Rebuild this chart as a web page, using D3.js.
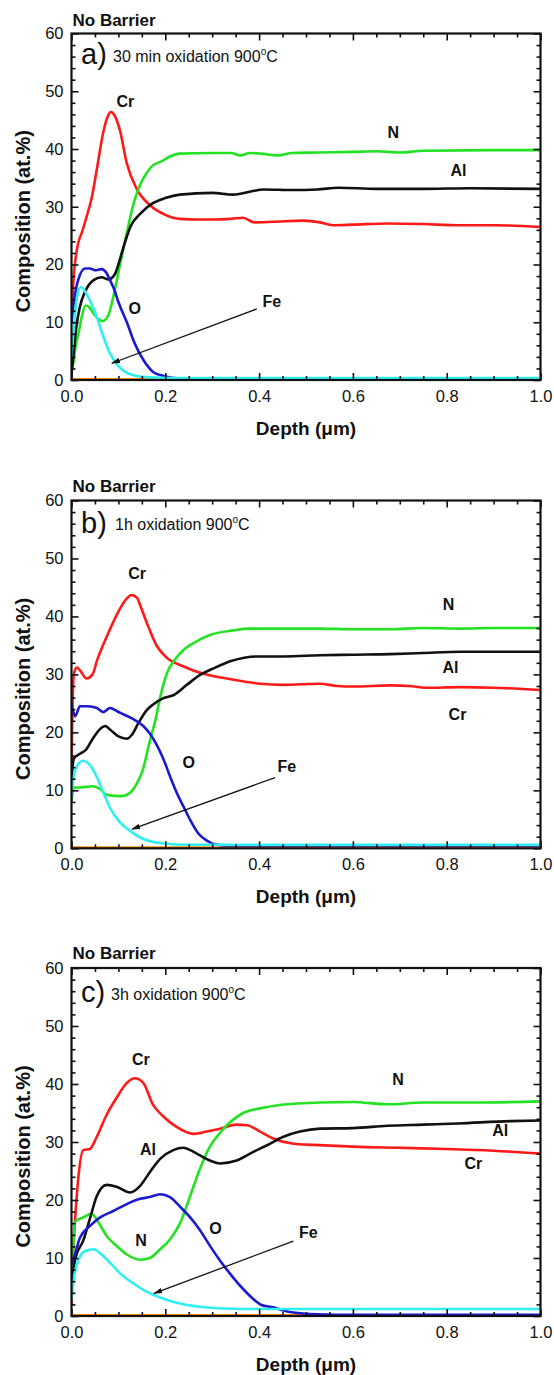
<!DOCTYPE html>
<html><head><meta charset="utf-8">
<script src="https://cdn.jsdelivr.net/npm/d3@7"></script>
<style>body{margin:0;background:#fff}</style>
</head><body><svg id="chart" width="554" height="1375"></svg>
<script>
// ---------- DATA ----------
const depthTicks = [0, 0.2, 0.4, 0.6, 0.8, 1.0];
const depthMinorTicks = [0.05,0.1,0.15,0.25,0.3,0.35,0.45,0.5,0.55,0.65,0.7,0.75,0.85,0.9,0.95];
const compTicks = [0, 10, 20, 30, 40, 50, 60];
const compMinorTicks = [2,4,6,8,12,14,16,18,22,24,26,28,32,34,36,38,42,44,46,48,52,54,56,58];

const panelTitles = ["No Barrier", "No Barrier", "No Barrier"];
const panelLetters = ["a)", "b)", "c)"];
const panelConditions = ["30 min oxidation 900", "1h oxidation 900", "3h oxidation 900"];
const xTitle = "Depth (\u03bcm)";
const yTitle = "Composition (at.%)";

// Panel a) 30 min
const aCr = [[0,10],[0.004,17],[0.011,22.3],[0.024,26],[0.032,28.2],[0.043,31.5],[0.054,36.5],[0.068,43],[0.077,45.6],[0.084,46.4],[0.092,45.8],[0.103,43.3],[0.118,37.5],[0.139,33.1],[0.167,30.3],[0.2,28.6],[0.231,27.9],[0.27,27.8],[0.3,27.8],[0.34,27.9],[0.366,28.1],[0.39,27.3],[0.43,27.4],[0.494,27.6],[0.53,27.3],[0.56,26.8],[0.6,26.9],[0.675,27.1],[0.75,27.0],[0.825,26.8],[0.9,26.8],[1.0,26.5]];
const aN = [[0,1.5],[0.004,3],[0.009,6],[0.015,8.1],[0.022,11],[0.03,12.9],[0.038,12.6],[0.047,11.5],[0.058,10.5],[0.066,10.2],[0.079,11.3],[0.088,14],[0.096,17],[0.103,19.8],[0.118,25.5],[0.133,30.7],[0.148,34.1],[0.16,35.8],[0.171,37],[0.193,37.9],[0.21,38.7],[0.231,39.2],[0.3,39.3],[0.34,39.3],[0.36,38.9],[0.38,39.3],[0.404,39.2],[0.44,38.9],[0.47,39.3],[0.524,39.4],[0.6,39.5],[0.65,39.6],[0.7,39.4],[0.75,39.7],[0.9,39.8],[1.0,39.8]];
const aAl = [[0,1],[0.005,5],[0.01,9],[0.018,12.7],[0.029,15.3],[0.047,17.3],[0.064,17.8],[0.079,17.4],[0.093,18.4],[0.1,20],[0.11,22.8],[0.126,26.6],[0.148,28.9],[0.171,30.5],[0.2,31.5],[0.231,32.1],[0.3,32.4],[0.344,32.1],[0.38,32.6],[0.41,33],[0.47,32.9],[0.524,33],[0.57,33.3],[0.65,33.1],[0.75,33.1],[0.85,33.2],[1.0,33.1]];
const aO = [[0,10],[0.006,14],[0.015,17.5],[0.029,19.3],[0.04,19.3],[0.05,19],[0.064,19.2],[0.074,18.6],[0.082,17.3],[0.091,15.7],[0.1,13.5],[0.118,10],[0.135,6.3],[0.153,3.5],[0.174,1.4],[0.196,0.7],[0.224,0.3],[0.3,0.2],[1.0,0.2]];
const aFe = [[0,4],[0.006,10],[0.012,14.5],[0.02,16.1],[0.03,15.2],[0.039,13.8],[0.054,10.9],[0.068,7.5],[0.082,4.6],[0.1,2.4],[0.125,1.0],[0.16,0.5],[0.22,0.35],[1.0,0.35]];
const aBase = [[0,0.15],[1.0,0.15]];
const aDark = [[0,0],[0.12,0]];

// Panel b) 1 h
const bCr = [[0,14],[0.002,24],[0.005,30],[0.011,31.2],[0.02,30.5],[0.032,29.3],[0.045,30],[0.054,32.3],[0.075,36.5],[0.096,40.2],[0.118,43.1],[0.128,43.7],[0.14,43.2],[0.146,42],[0.164,38.2],[0.182,34.9],[0.203,32.9],[0.238,31.4],[0.281,30.1],[0.331,29.3],[0.402,28.4],[0.45,28.2],[0.491,28.3],[0.53,28.4],[0.566,28.0],[0.6,27.9],[0.68,28.1],[0.72,28],[0.755,27.7],[0.83,27.8],[0.9,27.7],[1.0,27.3]];
const bN = [[0,8],[0.005,10.5],[0.016,10.5],[0.046,10.7],[0.061,10.2],[0.076,9.2],[0.106,9.0],[0.125,9.6],[0.14,11.3],[0.152,13.5],[0.167,18.5],[0.18,22.5],[0.189,26],[0.204,30.3],[0.22,32.5],[0.24,34.3],[0.26,35.4],[0.295,36.8],[0.345,37.6],[0.38,37.9],[0.45,37.9],[0.529,37.9],[0.6,37.8],[0.68,37.8],[0.75,38],[0.83,37.9],[0.9,38],[1.0,38]];
const bAl = [[0,12],[0.005,15.5],[0.018,16.3],[0.031,17],[0.046,19],[0.064,20.8],[0.072,21.1],[0.082,20.5],[0.1,19.3],[0.118,18.9],[0.128,19.5],[0.144,21.8],[0.16,23.8],[0.174,24.8],[0.196,25.9],[0.217,26.4],[0.246,28.2],[0.274,29.9],[0.302,31],[0.34,32.3],[0.393,33.1],[0.453,33.1],[0.529,33.3],[0.6,33.4],[0.68,33.5],[0.75,33.7],[0.83,33.9],[0.9,33.9],[1.0,33.9]];
const bO = [[0,25],[0.004,23.5],[0.008,22.8],[0.018,24.5],[0.035,24.5],[0.054,24.2],[0.068,23.5],[0.082,24.2],[0.103,23.4],[0.129,22.4],[0.153,21.1],[0.167,19.8],[0.182,17.8],[0.197,15.2],[0.212,12],[0.226,9.3],[0.24,7],[0.255,4.6],[0.27,2.6],[0.287,1.4],[0.305,0.7],[0.33,0.5],[1.0,0.5]];
const bFe = [[0,9],[0.004,12],[0.011,14.1],[0.025,15.1],[0.039,14.4],[0.054,12.3],[0.068,9.6],[0.082,7.0],[0.103,4.5],[0.125,3.0],[0.153,1.6],[0.189,0.9],[0.24,0.6],[1.0,0.6]];
const bBase = [[0,0.15],[1.0,0.15]];
const bDark = [[0,0],[0.1,0]];

// Panel c) 3 h
const cCr = [[0,2],[0.004,12],[0.0075,16.5],[0.015,24.2],[0.025,28.6],[0.039,28.8],[0.054,30.9],[0.075,34.7],[0.096,37.6],[0.118,40.2],[0.135,41],[0.153,40.2],[0.174,36.4],[0.196,34.4],[0.224,32.6],[0.26,31.4],[0.288,31.8],[0.317,32.3],[0.352,33],[0.374,32.9],[0.402,31.8],[0.43,30.6],[0.473,29.7],[0.516,29.5],[0.6,29.2],[0.7,29],[0.8,28.8],[0.9,28.5],[1.0,28]];
const cN = [[0,3],[0.004,12],[0.0085,16.3],[0.025,17],[0.043,17.6],[0.057,16.2],[0.075,13.8],[0.096,12.1],[0.118,10.6],[0.146,9.7],[0.167,10],[0.189,11.5],[0.21,13.2],[0.232,16.1],[0.253,20.7],[0.274,25.4],[0.295,29.2],[0.317,31.6],[0.338,33.4],[0.366,35],[0.402,35.8],[0.437,36.3],[0.473,36.6],[0.53,36.8],[0.6,36.9],[0.673,36.5],[0.75,36.8],[0.86,36.8],[1.0,37]];
const cAl = [[0,6],[0.0085,10],[0.025,13],[0.039,16.7],[0.054,20.7],[0.075,22.6],[0.096,22.3],[0.125,21.3],[0.146,22.4],[0.167,24.8],[0.189,27.1],[0.217,28.6],[0.238,29],[0.267,28],[0.295,26.8],[0.317,26.3],[0.352,26.8],[0.388,28.3],[0.416,29.4],[0.452,30.9],[0.487,31.8],[0.53,32.3],[0.6,32.4],[0.673,32.8],[0.75,33],[0.824,33.2],[0.936,33.6],[1.0,33.7]];
const cO = [[0,9],[0.005,10],[0.018,13.5],[0.039,15.5],[0.061,17],[0.089,18.1],[0.118,19.3],[0.146,20.2],[0.167,20.5],[0.189,21],[0.21,20.5],[0.232,18.8],[0.253,17],[0.274,14.8],[0.296,12],[0.318,9.4],[0.34,7.1],[0.362,5],[0.384,3.2],[0.405,1.9],[0.43,1.5],[0.45,1.0],[0.473,0.6],[0.523,0.3],[0.6,0.2],[1.0,0.2]];
const cFe = [[0,3],[0.006,7],[0.015,9.7],[0.029,11.2],[0.047,11.5],[0.064,10.6],[0.082,9.2],[0.103,7.4],[0.132,5.6],[0.16,4.2],[0.189,3.2],[0.224,2.3],[0.274,1.6],[0.33,1.3],[0.4,1.2],[1.0,1.2]];
const cBase = [[0,0.15],[1.0,0.15]];
const cDark = [[0,0],[0.28,0]];

// Curve labels [text, depth, composition]
const aLabels = [["Cr",0.115,48.3],["N",0.686,42.9],["Al",0.825,36.3],["O",0.135,12.5],["Fe",0.427,13.7]];
const bLabels = [["Cr",0.14,47.5],["N",0.804,42.1],["Al",0.808,31.2],["Cr",0.823,23.1],["O",0.25,14.8],["Fe",0.459,14.1]];
const cLabels = [["Cr",0.148,44.3],["N",0.696,40.8],["Al",0.914,32.1],["Cr",0.857,26.4],["Al",0.163,28.8],["N",0.148,13.1],["O",0.307,15.1],["Fe",0.505,14.4]];

// Fe arrows [tailDepth, tailComp, headDepth, headComp]
const aArrow = [0.395, 12.3, 0.086, 2.9];
const bArrow = [0.434, 12.2, 0.129, 3.3];
const cArrow = [0.473, 12.9, 0.176, 3.9];

// ---------- STYLE / LAYOUT ----------
const colors = {Cr:"#ff1a1a", N:"#22e222", Al:"#111111", O:"#1a1ad0", Fe:"#2ff0f0", base:"#ff8a00", dark:"#6b3a1a"};
const font = "'Liberation Sans', Arial, Helvetica, sans-serif";

const panels = [
  {series:{dark:aDark, base:aBase, Cr:aCr, N:aN, Al:aAl, O:aO, Fe:aFe}, labels:aLabels, arrow:aArrow,
   L:{left:71.5,right:540.5,top:33.5,bottom:380, titleOff:7.5, letterX:81, letterOff:30, subX:113, subOff:28.4}},
  {series:{dark:bDark, base:bBase, Cr:bCr, N:bN, Al:bAl, O:bO, Fe:bFe}, labels:bLabels, arrow:bArrow,
   L:{left:71.5,right:540.5,top:500.5,bottom:848.3, titleOff:8.5, letterX:81, letterOff:32, subX:115, subOff:29}},
  {series:{dark:cDark, base:cBase, Cr:cCr, N:cN, Al:cAl, O:cO, Fe:cFe}, labels:cLabels, arrow:cArrow,
   L:{left:71.5,right:540.5,top:968,bottom:1316, titleOff:9, letterX:81, letterOff:33.5, subX:111, subOff:32}}
];
const drawOrder = ["dark","base","Cr","N","Al","O","Fe"];

const svg = d3.select("#chart");
const defs = svg.append("defs");
defs.append("marker").attr("id","arrowhead")
  .attr("viewBox","0 0 10 6").attr("refX",9).attr("refY",3)
  .attr("markerWidth",9).attr("markerHeight",6).attr("markerUnits","userSpaceOnUse")
  .attr("orient","auto")
  .append("path").attr("d","M0,0 L10,3 L0,6 Z").attr("fill","#111");

panels.forEach((p, i) => {
  const L = p.L;
  const x = d3.scaleLinear().domain([0, 1]).range([L.left, L.right]);
  const y = d3.scaleLinear().domain([0, 60]).range([L.bottom, L.top]);
  const g = svg.append("g");

  defs.append("clipPath").attr("id", "clip" + i)
    .append("rect").attr("x", L.left).attr("y", L.top)
    .attr("width", L.right - L.left).attr("height", L.bottom - L.top);

  // curves
  const line = d3.line().x(d => x(d[0])).y(d => y(d[1])).curve(d3.curveMonotoneX);
  const cg = g.append("g").attr("clip-path", `url(#clip${i})`);
  drawOrder.forEach(k => {
    cg.append("path").datum(p.series[k]).attr("d", line)
      .attr("fill", "none").attr("stroke", colors[k])
      .attr("stroke-width", k === "dark" || k === "base" ? 2.2 : 2.6)
      .attr("stroke-linejoin", "round").attr("stroke-linecap", "round");
  });

  // axes
  const styleAxis = sel => {
    sel.select(".domain").remove();
    sel.selectAll("line").attr("stroke", "#111").attr("stroke-width", 1.6);
    sel.selectAll("text").attr("font-family", font).attr("font-size", 16.5).attr("fill", "#111");
  };
  g.append("g").attr("transform", `translate(0,${L.bottom})`)
    .call(d3.axisBottom(x).tickValues(depthTicks).tickFormat(d3.format(".1f")).tickSize(-7).tickPadding(10)).call(styleAxis);
  g.append("g").attr("transform", `translate(0,${L.bottom})`)
    .call(d3.axisBottom(x).tickValues(depthMinorTicks).tickFormat("").tickSize(-4)).call(styleAxis);
  g.append("g").attr("transform", `translate(0,${L.top})`)
    .call(d3.axisTop(x).tickValues(depthTicks).tickFormat("").tickSize(-7)).call(styleAxis);
  g.append("g").attr("transform", `translate(0,${L.top})`)
    .call(d3.axisTop(x).tickValues(depthMinorTicks).tickFormat("").tickSize(-4)).call(styleAxis);
  g.append("g").attr("transform", `translate(${L.left},0)`)
    .call(d3.axisLeft(y).tickValues(compTicks).tickFormat(d3.format("d")).tickSize(-7).tickPadding(8)).call(styleAxis);
  g.append("g").attr("transform", `translate(${L.left},0)`)
    .call(d3.axisLeft(y).tickValues(compMinorTicks).tickFormat("").tickSize(-4)).call(styleAxis);
  g.append("g").attr("transform", `translate(${L.right},0)`)
    .call(d3.axisRight(y).tickValues(compTicks).tickFormat("").tickSize(-7)).call(styleAxis);
  g.append("g").attr("transform", `translate(${L.right},0)`)
    .call(d3.axisRight(y).tickValues(compMinorTicks).tickFormat("").tickSize(-4)).call(styleAxis);

  // frame
  g.append("rect").attr("x", L.left).attr("y", L.top)
    .attr("width", L.right - L.left).attr("height", L.bottom - L.top)
    .attr("fill", "none").attr("stroke", "#111").attr("stroke-width", 2.2);

  // titles
  g.append("text").attr("x", L.left + 1).attr("y", L.top - L.titleOff)
    .attr("font-family", font).attr("font-weight", "bold").attr("font-size", 17).attr("fill", "#111")
    .text(panelTitles[i]);
  g.append("text").attr("x", L.letterX).attr("y", L.top + L.letterOff)
    .attr("font-family", font).attr("font-size", 29).attr("fill", "#111")
    .text(panelLetters[i]);
  const sub = g.append("text").attr("x", L.subX).attr("y", L.top + L.subOff)
    .attr("font-family", font).attr("font-size", 16).attr("fill", "#111");
  sub.append("tspan").text(panelConditions[i]);
  sub.append("tspan").attr("font-size", 10).attr("dy", -7).text("o");
  sub.append("tspan").attr("dy", 7).text("C");

  g.append("text").attr("x", (L.left + L.right) / 2).attr("y", L.bottom + 55)
    .attr("text-anchor", "middle").attr("font-family", font).attr("font-weight", "bold")
    .attr("font-size", 19).attr("fill", "#111").text(xTitle);
  g.append("text")
    .attr("transform", `translate(30,${(L.top + L.bottom) / 2 + 14.5}) rotate(-90)`)
    .attr("text-anchor", "middle").attr("font-family", font).attr("font-weight", "bold")
    .attr("font-size", 20).attr("fill", "#111").text(yTitle);

  // curve labels
  p.labels.forEach(([t, d, v]) => {
    g.append("text").attr("x", x(d)).attr("y", y(v)).attr("dy", "0.36em")
      .attr("text-anchor", "middle").attr("font-family", font).attr("font-weight", "bold")
      .attr("font-size", 16).attr("fill", "#111").text(t);
  });

  // Fe arrow
  const [td, tv, hd, hv] = p.arrow;
  g.append("line").attr("x1", x(td)).attr("y1", y(tv)).attr("x2", x(hd)).attr("y2", y(hv))
    .attr("stroke", "#111").attr("stroke-width", 1.3).attr("marker-end", "url(#arrowhead)");
});
</script></body></html>
